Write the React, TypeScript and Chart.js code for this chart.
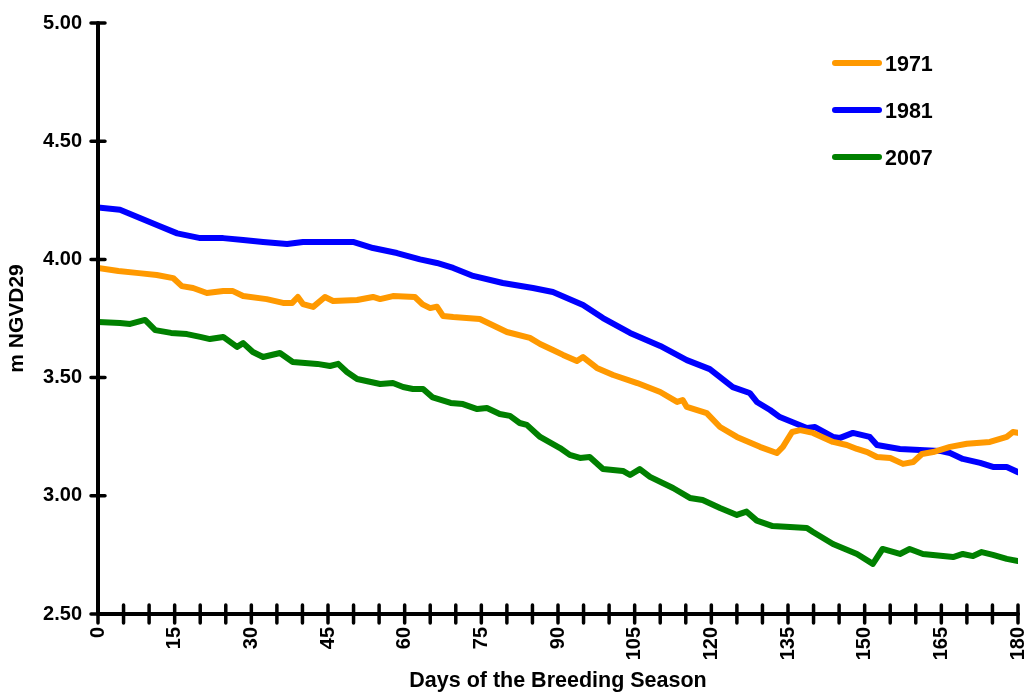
import { useEffect, useRef } from "react";
import { Chart, registerables } from "chart.js";

Chart.register(...registerables);

const seriesLabels = ["1971", "1981", "2007"];
const seriesColors = ["#FF9900", "#0000FF", "#008000"];

const days1971 = [0, 4, 8, 11.5, 14.7, 16.4, 18.6, 21.3, 24.5, 26.4, 28.4, 33, 36.2, 38, 39.1, 40.1, 42.1, 44.4, 46, 50.7, 53.8, 55.2, 57.7, 62, 63.5, 65, 66.3, 67.5, 69.5, 74.7, 80, 84.5, 86.5, 89, 91, 93.7, 94.9, 97.6, 100.8, 105.5, 110, 113.3, 114.4, 115.2, 119.1, 121.7, 125, 129.5, 132.8, 134, 135.8, 137.4, 139.9, 143.8, 146.5, 148.5, 150.5, 152.4, 155, 157.5, 159.5, 161.2, 163.4, 166.7, 170, 174.5, 177.8, 179, 180];
const levels1971 = [3.964, 3.951, 3.942, 3.934, 3.921, 3.887, 3.879, 3.858, 3.866, 3.866, 3.845, 3.832, 3.816, 3.816, 3.841, 3.811, 3.799, 3.841, 3.824, 3.828, 3.841, 3.832, 3.845, 3.841, 3.81, 3.794, 3.8, 3.761, 3.756, 3.748, 3.693, 3.668, 3.642, 3.617, 3.596, 3.57, 3.587, 3.541, 3.511, 3.477, 3.439, 3.397, 3.405, 3.376, 3.35, 3.291, 3.249, 3.207, 3.181, 3.207, 3.27, 3.278, 3.266, 3.228, 3.215, 3.198, 3.185, 3.164, 3.16, 3.135, 3.143, 3.177, 3.185, 3.207, 3.22, 3.228, 3.249, 3.27, 3.266];

const days1981 = [0, 4.3, 8.2, 12.1, 15.5, 20, 24.5, 28.4, 32.3, 37, 40.1, 49.9, 53.8, 58.5, 63, 66.3, 69.5, 73.4, 79.2, 85.1, 89, 94.9, 98.8, 104.1, 110, 115.2, 119.7, 124.2, 127.5, 128.9, 131.5, 133.4, 138.7, 140.3, 143.8, 145.2, 147.7, 151, 152.4, 156.9, 164.7, 166.7, 169.2, 172.6, 175.1, 177.8, 180];
const levels1981 = [4.22, 4.21, 4.175, 4.14, 4.11, 4.09, 4.09, 4.082, 4.074, 4.065, 4.074, 4.074, 4.048, 4.027, 4.0, 3.985, 3.964, 3.93, 3.9, 3.879, 3.862, 3.807, 3.752, 3.689, 3.634, 3.574, 3.536, 3.46, 3.435, 3.397, 3.363, 3.333, 3.287, 3.291, 3.249, 3.245, 3.266, 3.249, 3.215, 3.198, 3.19, 3.181, 3.156, 3.139, 3.122, 3.122, 3.1];

const days2007 = [0, 4.3, 6.3, 9.2, 11.2, 14.3, 17.4, 20, 21.9, 24.5, 27.2, 28.4, 30.3, 32.3, 35.6, 38.1, 42.9, 45.4, 47, 48.7, 50.7, 55.2, 57.7, 59.7, 61.6, 63.6, 65.5, 69, 71.4, 74.2, 76.1, 78.6, 80.6, 82.5, 83.9, 86.5, 90.4, 92.3, 94.3, 96.2, 98.8, 102.7, 104.1, 106, 108, 112.5, 115.8, 118.3, 121.7, 125, 126.9, 128.9, 132, 135.4, 138.7, 139.9, 143.8, 148.5, 151.6, 153.5, 156.9, 158.8, 161.4, 167.3, 169.2, 171.2, 172.9, 175.1, 177.8, 180];
const levels2007 = [3.735, 3.731, 3.727, 3.744, 3.701, 3.689, 3.684, 3.672, 3.663, 3.672, 3.63, 3.646, 3.608, 3.587, 3.604, 3.566, 3.558, 3.549, 3.558, 3.524, 3.494, 3.473, 3.477, 3.46, 3.452, 3.452, 3.416, 3.393, 3.388, 3.367, 3.371, 3.346, 3.338, 3.308, 3.3, 3.249, 3.202, 3.173, 3.16, 3.164, 3.113, 3.105, 3.088, 3.113, 3.08, 3.033, 2.991, 2.982, 2.948, 2.919, 2.933, 2.895, 2.872, 2.868, 2.864, 2.847, 2.796, 2.754, 2.712, 2.775, 2.754, 2.775, 2.754, 2.741, 2.754, 2.745, 2.762, 2.75, 2.733, 2.724];

const seriesDays = [days1971, days1981, days2007];
const seriesLevels = [levels1971, levels1981, levels2007];

const xTitle = "Days of the Breeding Season";
const yTitle = "m NGVD29";
const FONT = "'Liberation Sans', Arial, Helvetica, sans-serif";

const axesPlugin = {
  id: "crossAxes",
  afterDatasetsDraw(chart: any) {
    const { ctx, chartArea, scales } = chart;
    const xs = scales.x;
    const ys = scales.y;
    ctx.save();
    ctx.strokeStyle = "#000";
    ctx.lineCap = "round";
    ctx.lineJoin = "round";
    ctx.lineWidth = 4;
    ctx.beginPath();
    ctx.moveTo(chartArea.left, chartArea.top);
    ctx.lineTo(chartArea.left, chartArea.bottom);
    ctx.lineTo(chartArea.right, chartArea.bottom);
    ctx.stroke();
    ctx.lineWidth = 3.5;
    ctx.beginPath();
    ys.ticks.forEach((t: any) => {
      const py = ys.getPixelForValue(t.value);
      ctx.moveTo(chartArea.left - 7, py);
      ctx.lineTo(chartArea.left + 7, py);
    });
    for (let d = xs.min; d <= xs.max; d += 5) {
      const px = xs.getPixelForValue(d);
      ctx.moveTo(px, chartArea.bottom - 9);
      ctx.lineTo(px, chartArea.bottom + 9);
    }
    ctx.stroke();
    ctx.restore();
  },
};

const legendPlugin = {
  id: "cornerLegend",
  afterDraw(chart: any) {
    const { ctx } = chart;
    ctx.save();
    chart.data.datasets.forEach((ds: any, i: number) => {
      const y = 63 + i * 47;
      ctx.strokeStyle = ds.borderColor;
      ctx.lineWidth = 6;
      ctx.lineCap = "round";
      ctx.beginPath();
      ctx.moveTo(835, y);
      ctx.lineTo(879, y);
      ctx.stroke();
      ctx.fillStyle = "#000";
      ctx.font = `bold 21.5px ${FONT}`;
      ctx.textBaseline = "middle";
      ctx.textAlign = "left";
      ctx.fillText(ds.label, 885, y + 2);
    });
    ctx.restore();
  },
};

export default function App() {
  const ref = useRef<HTMLCanvasElement>(null);
  useEffect(() => {
    document.body.style.margin = "0";
    const chart = new Chart(ref.current as HTMLCanvasElement, {
      type: "line",
      data: {
        datasets: seriesLabels.map((label, i) => ({
          label,
          data: seriesDays[i].map((d, j) => ({ x: d, y: seriesLevels[i][j] })),
          borderColor: seriesColors[i],
          backgroundColor: seriesColors[i],
          borderWidth: 6,
          pointRadius: 0,
          tension: 0,
          fill: false,
          borderJoinStyle: "round" as const,
          borderCapStyle: "round" as const,
        })),
      },
      options: {
        animation: false,
        responsive: false,
        maintainAspectRatio: false,
        layout: { padding: { left: 0, right: 9, top: 23, bottom: 0 } },
        plugins: { legend: { display: false }, tooltip: { enabled: false } },
        scales: {
          x: {
            type: "linear",
            min: 0,
            max: 180,
            afterFit: (s: any) => {
              s.height = 80;
              s.paddingLeft = 0;
              s.paddingRight = 0;
            },
            grid: { display: false, drawTicks: false },
            border: { display: false },
            ticks: {
              stepSize: 15,
              autoSkip: false,
              maxRotation: 90,
              minRotation: 90,
              padding: 13,
              color: "#000",
              font: { family: FONT, size: 20, weight: "bold" },
              callback: (v: any) => String(v),
            },
            title: {
              display: true,
              text: xTitle,
              color: "#000",
              padding: { top: 0, bottom: 0 },
              font: { family: FONT, size: 21.5, weight: "bold" },
            },
          },
          y: {
            type: "linear",
            min: 2.5,
            max: 5,
            afterFit: (s: any) => {
              s.width = 98;
              s.paddingTop = 0;
              s.paddingBottom = 0;
            },
            grid: { display: false, drawTicks: false },
            border: { display: false },
            ticks: {
              stepSize: 0.5,
              padding: 16,
              color: "#000",
              font: { family: FONT, size: 20, weight: "bold" },
              callback: (v: any) => Number(v).toFixed(2),
            },
            title: {
              display: true,
              text: yTitle,
              color: "#000",
              padding: { top: 5, bottom: 0 },
              font: { family: FONT, size: 21, weight: "bold" },
            },
          },
        },
      },
      plugins: [axesPlugin, legendPlugin],
    });
    return () => chart.destroy();
  }, []);
  return (
    <div style={{ width: 1027, height: 694 }}>
      <canvas ref={ref} width={1027} height={694} style={{ display: "block" }} />
    </div>
  );
}
